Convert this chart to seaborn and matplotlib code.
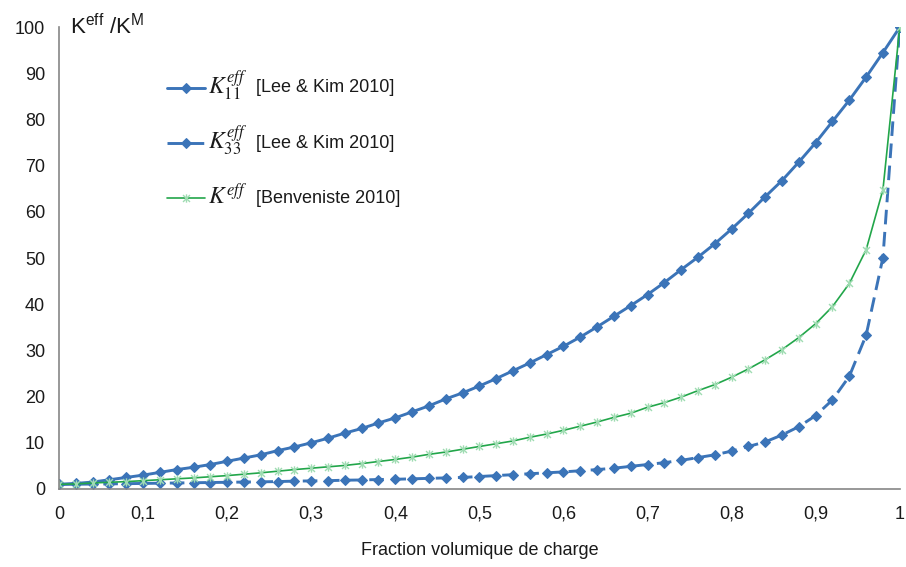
import numpy as np
import seaborn as sns
import matplotlib.pyplot as plt
from matplotlib.path import Path

# volume fraction of filler (points every 0.02)
fraction = [round(0.02 * i, 2) for i in range(51)]

k11_lee_kim = [1.0, 1.2, 1.5, 2.0, 2.5, 3.0, 3.6, 4.2, 4.7, 5.3,
               6.0, 6.7, 7.4, 8.3, 9.1, 10.0, 11.0, 12.1, 13.1, 14.3,
               15.4, 16.7, 18.0, 19.5, 20.8, 22.3, 23.9, 25.6, 27.3, 29.1,
               30.9, 32.9, 35.1, 37.4, 39.7, 42.1, 44.7, 47.5, 50.2, 53.1,
               56.3, 59.7, 63.3, 66.8, 70.8, 75.0, 79.6, 84.2, 89.2, 94.5,
               100.0]

k33_lee_kim = [1.0, 1.03, 1.07, 1.1, 1.15, 1.2, 1.25, 1.3, 1.35, 1.4,
               1.45, 1.5, 1.55, 1.6, 1.7, 1.75, 1.8, 1.9, 1.95, 2.05,
               2.1, 2.2, 2.3, 2.4, 2.5, 2.7, 2.9, 3.1, 3.3, 3.5,
               3.7, 3.95, 4.2, 4.5, 4.9, 5.3, 5.7, 6.2, 6.8, 7.4,
               8.2, 9.2, 10.2, 11.7, 13.5, 15.9, 19.3, 24.4, 33.3, 50.1,
               100.0]

k_benveniste = [1.0, 1.1, 1.3, 1.45, 1.6, 1.8, 2.0, 2.2, 2.4, 2.65,
                2.9, 3.2, 3.5, 3.85, 4.2, 4.5, 4.8, 5.1, 5.5, 5.95,
                6.4, 6.9, 7.5, 8.0, 8.6, 9.2, 9.8, 10.4, 11.2, 11.9,
                12.7, 13.6, 14.5, 15.5, 16.4, 17.7, 18.7, 19.9, 21.3, 22.6,
                24.2, 26.0, 28.0, 30.2, 32.8, 35.8, 39.5, 44.5, 51.8, 64.8,
                100.0]

seriesSymbols = [r"$K_{11}^{eff}$", r"$K_{33}^{eff}$", r"$K^{eff}$"]
seriesSources = ["[Lee & Kim 2010]", "[Lee & Kim 2010]", "[Benveniste 2010]"]

xTicks = [0, 0.1, 0.2, 0.3, 0.4, 0.5, 0.6, 0.7, 0.8, 0.9, 1.0]
xTickLabels = ["0", "0,1", "0,2", "0,3", "0,4", "0,5", "0,6", "0,7", "0,8", "0,9", "1"]
yTicks = list(range(0, 101, 10))

sns.set_style("white")
plt.rcParams['font.family'] = ['Liberation Sans', 'DejaVu Sans']
plt.rcParams['mathtext.fontset'] = 'custom'
plt.rcParams['mathtext.rm'] = 'Liberation Sans'
plt.rcParams['mathtext.it'] = 'Liberation Sans:italic'

blueCol = "#3b74b8"
greenCol = "#22a64a"
paleGreen = "#9fdcb2"
axisGray = "#868686"
textCol = '#1a1a1a'

# excel-like star marker: x with a vertical bar
starMarker = Path([(-1, -1), (1, 1), (-1, 1), (1, -1), (0, -1.2), (0, 1.2)],
                  [Path.MOVETO, Path.LINETO, Path.MOVETO, Path.LINETO, Path.MOVETO, Path.LINETO])

fig = plt.figure(figsize=(9.06, 5.67), dpi=100)
ax = fig.add_axes([0.0651, 0.1376, 0.928, 0.8144])

sns.lineplot(x=fraction, y=k11_lee_kim, ax=ax, color=blueCol, linewidth=2.1,
             marker='D', markersize=5, markeredgecolor=blueCol, label=" ")
sns.lineplot(x=fraction, y=k33_lee_kim, ax=ax, color=blueCol, linewidth=2.1,
             linestyle=(0, (5, 2.6)), marker='D', markersize=5, markeredgecolor=blueCol,
             label="  ")
sns.lineplot(x=fraction, y=k_benveniste, ax=ax, color=greenCol, linewidth=1.2,
             marker=starMarker, markersize=6, markerfacecolor='none',
             markeredgecolor=paleGreen, markeredgewidth=1.0, label="   ")

ax.set_xlim(0, 1)
ax.set_ylim(0, 100)
ax.set_xticks(xTicks)
ax.set_xticklabels(xTickLabels)
ax.set_yticks(yTicks)
ax.tick_params(axis='both', direction='out', length=5, width=1, color=axisGray,
               labelsize=13, labelcolor=textCol, pad=5)
ax.tick_params(axis='x', pad=7)

sns.despine(ax=ax)
for side in ['left', 'bottom']:
    ax.spines[side].set_color(axisGray)
    ax.spines[side].set_linewidth(1.2)

ax.set_xlabel("Fraction volumique de charge", fontsize=13, color=textCol, labelpad=14)
ax.set_ylabel("")
fig.text(0.077, 0.94, r"K$^{\mathrm{eff}}$ /K$^{\mathrm{M}}$", fontsize=16,
         color=textCol, math_fontfamily='custom')

# legend gives the handles; rows are evenly spaced with blank labels
leg = ax.legend(loc='upper left', bbox_to_anchor=(0.128, 0.883), frameon=False,
                fontsize=13, labelspacing=2.12, handlelength=2.1, handletextpad=0.1,
                borderpad=0, borderaxespad=0)

# symbols and source references written next to each legend handle
fig.canvas.draw()
for handle, sym, src in zip(leg.legend_handles, seriesSymbols, seriesSources):
    yPix = handle.get_transform().transform(handle.get_xydata())[0][1]
    fig.text(208 / 906, (yPix - 5) / 567, sym, fontsize=17, color=textCol,
             va='baseline', math_fontfamily='stix')
    fig.text(256 / 906, yPix / 567, src, fontsize=13, color=textCol, va='center')

fig.savefig("out.png", dpi=100)
